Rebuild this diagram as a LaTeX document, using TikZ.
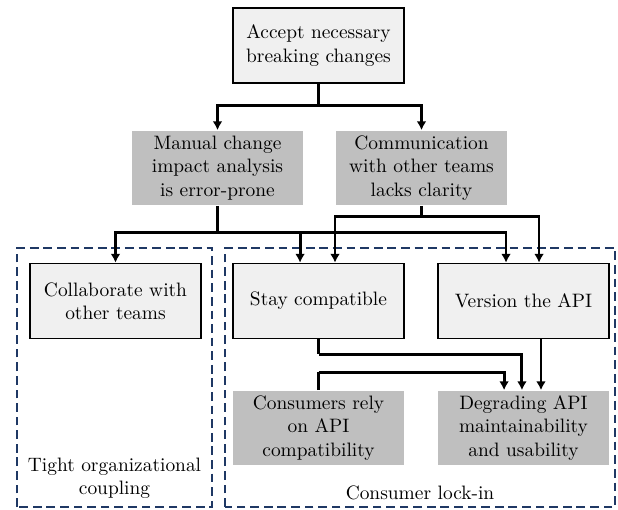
\documentclass[tikz,border=0pt]{standalone}
\usepackage{xcolor}
\usepackage{tikz}
\usetikzlibrary{arrows.meta}
\definecolor{lockblue}{RGB}{31,56,100}
\definecolor{choicefill}{RGB}{240,240,240}
\definecolor{issuefill}{RGB}{191,191,191}
\tikzset{
  choice/.style={draw=black, line width=0.9pt, fill=choicefill, align=center,
    minimum width=88pt, minimum height=38.6pt, inner sep=2pt},
  issue/.style={fill=issuefill, align=center,
    minimum width=88pt, minimum height=38.6pt, inner sep=2pt},
  group/.style={draw=lockblue, line width=1pt, dash pattern=on 4.5pt off 2.5pt},
  link/.style={draw=black, line width=1.5pt},
  arrow/.style={link, -{Latex[length=4.5pt,width=5pt]}},
}

\begin{document}
\begin{tikzpicture}[x=0.515pt,y=0.515pt]
\useasboundingbox (0,0) rectangle (618,509);
% dashed groups
\draw[group] (17,2) rectangle (212,261);
\draw[group] (225,2) rectangle (615,261);
\node[align=center] (tight) at (114.5,31) {Tight organizational\\coupling};
\node (lockin) at (420,16) {Consumer lock-in};
% boxes
\node[choice] (accept) at (318.5,463.5) {Accept necessary\\breaking changes};
\node[issue] (manual) at (217.5,341) {Manual change\\impact analysis\\is error-prone};
\node[issue] (comm) at (421.5,341) {Communication\\with other teams\\lacks clarity};
\node[choice] (collab) at (115.5,208) {Collaborate with\\other teams};
\node[choice] (stay) at (318.5,208) {Stay compatible};
\node[choice] (version) at (523.5,208) {Version the API};
\node[issue] (consumers) at (318.5,81) {Consumers rely\\on API\\compatibility};
\node[issue] (degrading) at (523.5,81) {Degrading API\\maintainability\\and usability};
% connectors
\draw[link] (accept.south) -- ++(0,-22) coordinate (j1);
\draw[arrow] (j1) -| (manual.north);
\draw[arrow] (j1) -| (comm.north);
\draw[link] (manual.south) -- ++(0,-27) coordinate (j2);
\draw[arrow] (j2) -| (collab.north);
\draw[arrow] (j2) -| ([xshift=-9.5pt]stay.north);
\draw[arrow] (j2) -| ([xshift=-9pt]version.north);
\draw[link] (comm.south) -- ++(0,-11) coordinate (j3);
\draw[arrow] (j3) -| ([xshift=8.5pt]stay.north);
\draw[arrow] (j3) -| ([xshift=8pt]version.north);
\draw[link] (stay.south) -- ++(0,-15) coordinate (j4);
\draw[arrow] (j4) -| ([xshift=-0.8pt]degrading.north);
\draw[link] (consumers.north) -- ++(0,18) coordinate (j5);
\draw[arrow] (j5) -| ([xshift=-10pt]degrading.north);
\draw[arrow] ([xshift=9pt]version.south) -- ([xshift=9pt]degrading.north);
\end{tikzpicture}
\end{document}
